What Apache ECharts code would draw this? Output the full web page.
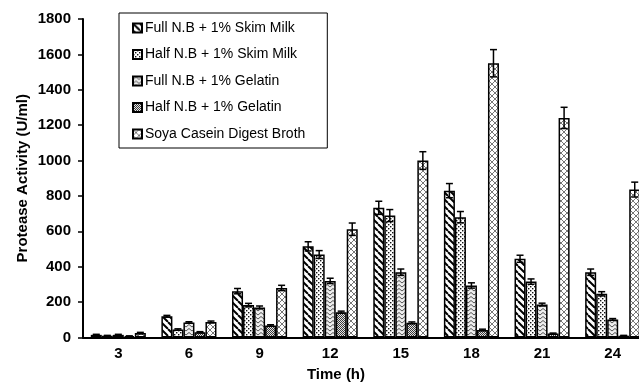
<!DOCTYPE html>
<html>
<head>
<meta charset="utf-8">
<script src="https://cdn.jsdelivr.net/npm/echarts@6/dist/echarts.min.js"></script>
<style>
html,body{margin:0;padding:0;background:#fff;overflow:hidden;width:639px;height:385px;}
#chart{width:652px;height:385px;}
</style>
</head>
<body>
<div id="chart"></div>
<script>
// ---- Data ----
var categories = ['3', '6', '9', '12', '15', '18', '21', '24'];
var seriesNames = ['Full N.B + 1% Skim Milk', 'Half N.B + 1% Skim Milk', 'Full N.B + 1% Gelatin', 'Half N.B + 1% Gelatin', 'Soya Casein Digest Broth'];
var fullSkim = [15, 120, 262, 515, 733, 830, 445, 369];
var halfSkim = [10, 45, 183, 469, 689, 680, 316, 247];
var fullGel = [15, 85, 170, 320, 369, 294, 186, 102];
var halfGel = [8, 30, 68, 143, 83, 43, 22, 10];
var soya = [25, 88, 280, 612, 1000, 1550, 1241, 836];
var fullSkimErr = [3, 5, 15, 26, 37, 40, 20, 18];
var halfSkimErr = [2, 4, 10, 22, 34, 32, 15, 12];
var fullGelErr = [3, 4, 8, 15, 18, 15, 8, 5];
var halfGelErr = [1, 3, 4, 6, 5, 4, 3, 2];
var soyaErr = [4, 5, 15, 35, 50, 77, 60, 42];
var yTicks = {min: 0, max: 1800, interval: 200};

var values = [fullSkim, halfSkim, fullGel, halfGel, soya];
var errors = [fullSkimErr, halfSkimErr, fullGelErr, halfGelErr, soyaErr];

// ---- Fill patterns ----
function tile(w, h, draw) {
  var c = document.createElement('canvas');
  c.width = w; c.height = h;
  var ctx = c.getContext('2d');
  ctx.fillStyle = '#fff';
  ctx.fillRect(0, 0, w, h);
  draw(ctx, w, h);
  return c;
}
var pStripes = tile(7, 7, function (ctx, s) {
  ctx.strokeStyle = '#000'; ctx.lineWidth = 2;
  for (var k = -1; k <= 1; k++) {
    ctx.beginPath(); ctx.moveTo(k * s, 0); ctx.lineTo(k * s + s, s); ctx.stroke();
  }
});
var pDots = tile(4, 4, function (ctx) {
  ctx.fillStyle = '#111';
  ctx.fillRect(0, 0, 1.4, 1.4);
  ctx.fillRect(2, 2, 1.4, 1.4);
});
var pZig = tile(6, 4, function (ctx) {
  ctx.fillStyle = '#eee'; ctx.fillRect(0, 0, 6, 4);
  ctx.strokeStyle = '#555'; ctx.lineWidth = 1;
  ctx.beginPath(); ctx.moveTo(0, 3); ctx.lineTo(3, 0.5); ctx.lineTo(6, 3); ctx.stroke();
});
var pCheck = tile(4, 4, function (ctx) {
  for (var i = 0; i < 4; i++) for (var j = 0; j < 4; j++) {
    ctx.fillStyle = ((i + j) % 2 === 0) ? '#3a3a3a' : '#e4e4e4';
    ctx.fillRect(i, j, 1, 1);
  }
});
var pCross = tile(6, 6, function (ctx, s) {
  ctx.strokeStyle = '#777'; ctx.lineWidth = 1;
  for (var k = -1; k <= 1; k++) {
    ctx.beginPath(); ctx.moveTo(k * s, 0); ctx.lineTo(k * s + s, s); ctx.stroke();
    ctx.beginPath(); ctx.moveTo(k * s + s, 0); ctx.lineTo(k * s, s); ctx.stroke();
  }
});
var patterns = [pStripes, pDots, pZig, pCheck, pCross];

var BAR_FRACTION = 0.78;
var series = [];
seriesNames.forEach(function (name, si) {
  series.push({
    name: name,
    type: 'bar',
    data: values[si],
    barGap: '0%',
    barCategoryGap: '22%',
    itemStyle: {
      color: {image: patterns[si], repeat: 'repeat'},
      borderColor: '#000',
      borderWidth: 1.5
    },
    emphasis: {disabled: true},
    z: 2
  });
});
seriesNames.forEach(function (name, si) {
  series.push({
    name: name + ' err',
    type: 'custom',
    z: 5,
    silent: true,
    encode: {x: 0, y: 1},
    data: values[si].map(function (v, i) { return [i, v, errors[si][i]]; }),
    renderItem: function (params, api) {
      var idx = api.value(0), v = api.value(1), e = api.value(2);
      var band = api.size([1, 0])[0];
      var barW = band * BAR_FRACTION / 5;
      var c = api.coord([idx, v]);
      var x = c[0] + (si - 2) * barW;
      var yTop = api.coord([idx, v + e])[1];
      var yBot = api.coord([idx, Math.max(0, v - e)])[1];
      var cap = 3.5;
      var st = {stroke: '#000', lineWidth: 1.5};
      return {
        type: 'group',
        children: [
          {type: 'line', shape: {x1: x, y1: yTop, x2: x, y2: yBot}, style: st},
          {type: 'line', shape: {x1: x - cap, y1: yTop, x2: x + cap, y2: yTop}, style: st},
          {type: 'line', shape: {x1: x - cap, y1: yBot, x2: x + cap, y2: yBot}, style: st}
        ]
      };
    }
  });
});

var chart = echarts.init(document.getElementById('chart'), null, {renderer: 'canvas'});
chart.setOption({
  animation: false,
  backgroundColor: '#fff',
  textStyle: {fontFamily: 'Liberation Sans, Arial, sans-serif'},
  grid: {left: 83, top: 19, width: 565, height: 318.5, containLabel: false},
  legend: {
    data: seriesNames,
    orient: 'vertical',
    left: 119,
    top: 13,
    itemWidth: 9,
    itemHeight: 9,
    itemGap: 12.5,
    padding: [8, 22, 7, 13],
    borderColor: '#000',
    borderWidth: 1,
    icon: 'rect',
    textStyle: {fontSize: 14, color: '#000', fontFamily: 'Liberation Sans, Arial, sans-serif', padding: [0, 0, 0, -2]}
  },
  xAxis: {
    type: 'category',
    data: categories,
    axisLine: {lineStyle: {color: '#000', width: 2}},
    axisTick: {show: false},
    axisLabel: {fontSize: 15, fontWeight: 'bold', color: '#000', margin: 9}
  },
  yAxis: {
    type: 'value',
    min: yTicks.min,
    max: yTicks.max,
    interval: yTicks.interval,
    name: 'Protease Activity (U/ml)',
    nameLocation: 'middle',
    nameGap: 53,
    nameMoveOverlap: false,
    nameTextStyle: {fontSize: 15, fontWeight: 'bold', color: '#000'},
    axisLine: {show: true, lineStyle: {color: '#000', width: 2}},
    axisTick: {show: true, length: 5, lineStyle: {color: '#000', width: 1.5}},
    axisLabel: {fontSize: 15, fontWeight: 'bold', color: '#000', margin: 12, formatter: function (v) { return String(v); }},
    splitLine: {show: false}
  },
  graphic: [{
    type: 'text',
    x: 336,
    y: 375,
    style: {text: 'Time (h)', fontSize: 15, fontWeight: 'bold', fill: '#000', align: 'center', verticalAlign: 'middle', fontFamily: 'Liberation Sans, Arial, sans-serif'}
  }],
  series: series
});
</script>
</body>
</html>
